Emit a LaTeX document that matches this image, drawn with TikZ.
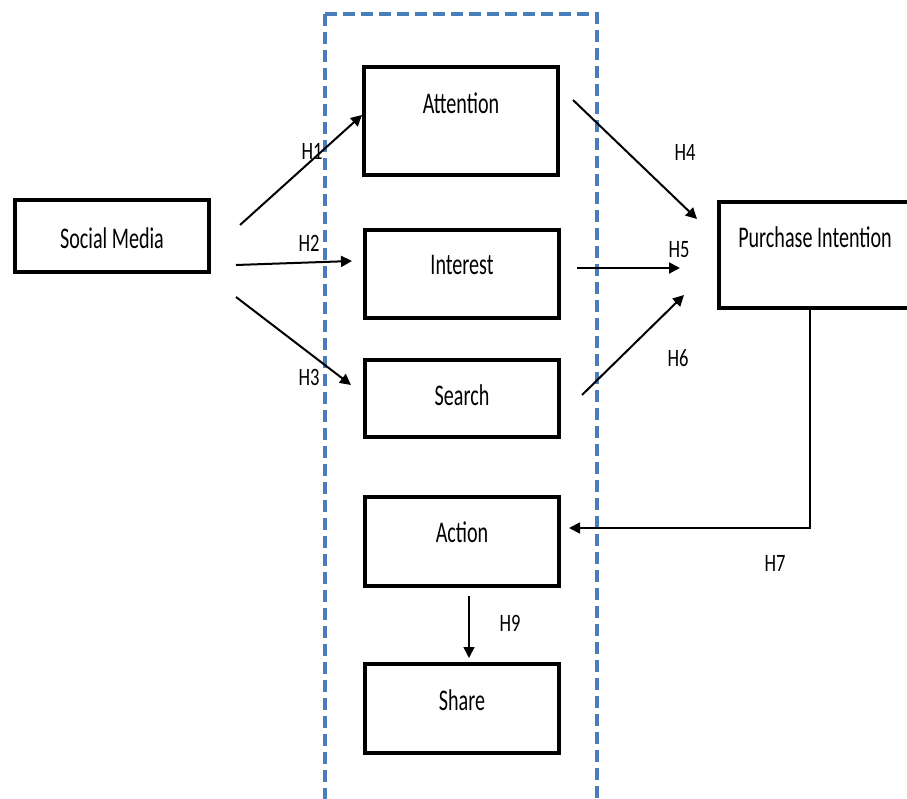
\documentclass[tikz,border=0pt]{standalone}
\usepackage{fontspec}
\setmainfont{Carlito}
\usetikzlibrary{arrows.meta}
\definecolor{dashblue}{HTML}{4A7EBB}
\newcommand\sqz[1]{\scalebox{0.67}[1]{#1}}
\newcommand\sqh[1]{\scalebox{0.74}[1]{#1}}
\tikzset{
  box/.style={draw=black, line width=4.5pt, minimum width=194pt, inner sep=0pt},
  boxtext/.style={font=\fontsize{30}{36}\selectfont, inner sep=0pt},
  hlab/.style={font=\fontsize{25}{30}\selectfont, inner sep=0pt},
  conn/.style={line width=2pt, -{Triangle[length=11pt,width=11pt]}},
  frame/.style={draw=dashblue, line width=4pt, dash pattern=on 12pt off 6pt}
}
\begin{document}
\begin{tikzpicture}[x=1pt,y=-1pt]
\useasboundingbox (0,0) rectangle (907,799);
\clip (0,0) rectangle (907,799);
% dashed frame
\draw[frame] (325,14) -- (597,14) -- (597,840);
\draw[frame] (325,14) -- (325,840);
% boxes
\node[box, minimum height=72pt]  (sm)  at (112,236) {};
\node[box, minimum height=108pt] (att) at (461,121) {};
\node[box, minimum height=88pt]  (int) at (462,274) {};
\node[box, minimum height=77pt]  (sea) at (462,398.5) {};
\node[box, minimum height=89pt]  (act) at (462,541.5) {};
\node[box, minimum height=89pt]  (sha) at (462,708.5) {};
\node[box, minimum width=192pt, minimum height=106pt] (pi) at (815,255) {};
% texts
\node[boxtext] (smt)  at (112,238) {\sqz{Social Media}};
\node[boxtext] (attt) at (461,103) {\sqz{Attention}};
\node[boxtext] (intt) at (462,265) {\sqz{Interest}};
\node[boxtext] (seat) at (462,395) {\sqz{Search}};
\node[boxtext] (actt) at (462,532) {\sqz{Action}};
\node[boxtext] (shat) at (462,700) {\sqz{Share}};
\node[boxtext] (pit)  at (815,237) {\sqz{Purchase Intention}};
% connector end points
\coordinate (h1s) at (240,225);  \coordinate (h1e) at (362,115);
\coordinate (h2s) at (236,265);  \coordinate (h2e) at (352,261);
\coordinate (h3s) at (236,297);  \coordinate (h3e) at (351,385);
\coordinate (h4s) at (573,100);  \coordinate (h4e) at (697,219);
\coordinate (h5s) at (577,268);  \coordinate (h5e) at (680,268);
\coordinate (h6s) at (582,395);  \coordinate (h6e) at (684,295);
\coordinate (h7s) at (810,308);  \coordinate (h7c) at (810,528); \coordinate (h7e) at (569,528);
\coordinate (h9s) at (469,596);  \coordinate (h9e) at (469,658);
% connectors
\draw[conn] (h1s) -- (h1e);
\draw[conn] (h2s) -- (h2e);
\draw[conn] (h3s) -- (h3e);
\draw[conn] (h4s) -- (h4e);
\draw[conn] (h5s) -- (h5e);
\draw[conn] (h6s) -- (h6e);
\draw[conn, line width=1.8pt] (h7s) -- (h7c) -- (h7e);
\draw[conn, line width=1.6pt] (h9s) -- (h9e);
% labels
\node[hlab] (l1) at (312,151) {\sqh{H1}};
\node[hlab] (l2) at (309,243) {\sqh{H2}};
\node[hlab] (l3) at (309,377) {\sqh{H3}};
\node[hlab] (l4) at (685,152) {\sqh{H4}};
\node[hlab] (l5) at (679,250) {\sqh{H5}};
\node[hlab] (l6) at (678,358) {\sqh{H6}};
\node[hlab] (l7) at (775,563) {\sqh{H7}};
\node[hlab] (l9) at (510,623) {\sqh{H9}};
\end{tikzpicture}
\end{document}
